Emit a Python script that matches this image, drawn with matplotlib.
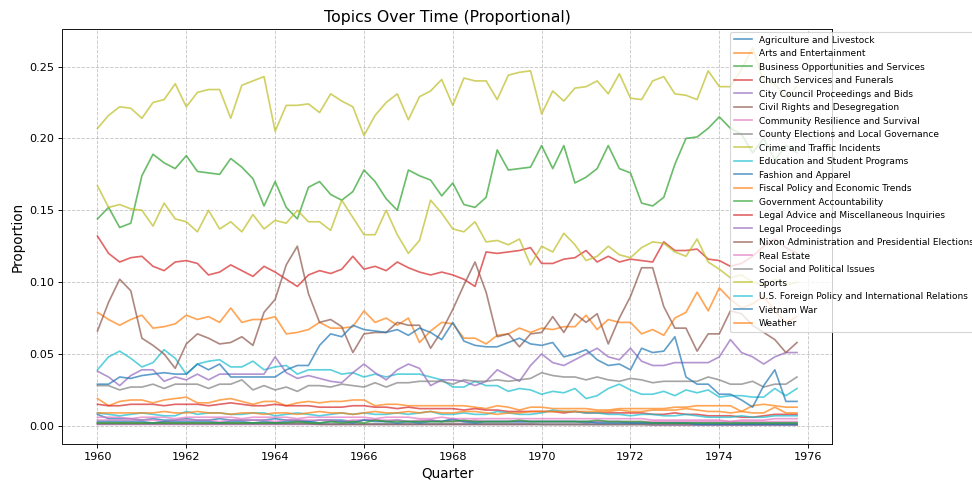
import numpy as np
import pandas as pd
import matplotlib
matplotlib.use("Agg")
import matplotlib.pyplot as plt

quarters = pd.period_range("1960Q1", "1975Q4", freq="Q")
x = np.array([q.year + (q.quarter - 1) / 4 for q in quarters])

topics = [
    "Agriculture and Livestock", "Arts and Entertainment", "Business Opportunities and Services",
    "Church Services and Funerals", "City Council Proceedings and Bids", "Civil Rights and Desegregation",
    "Community Resilience and Survival", "County Elections and Local Governance", "Crime and Traffic Incidents",
    "Education and Student Programs", "Fashion and Apparel", "Fiscal Policy and Economic Trends",
    "Government Accountability", "Legal Advice and Miscellaneous Inquiries", "Legal Proceedings",
    "Nixon Administration and Presidential Elections", "Real Estate", "Social and Political Issues",
    "Sports", "U.S. Foreign Policy and International Relations", "Vietnam War", "Weather",
]

agriculture = [0.008, 0.005, 0.005, 0.005, 0.004, 0.005, 0.004, 0.004, 0.005, 0.004,
               0.004, 0.005, 0.004, 0.004, 0.004, 0.004, 0.005, 0.004, 0.004, 0.003,
               0.004, 0.004, 0.004, 0.003, 0.004, 0.004, 0.003, 0.004, 0.003, 0.003,
               0.004, 0.003, 0.004, 0.003, 0.003, 0.003, 0.003, 0.003, 0.003, 0.003,
               0.003, 0.003, 0.003, 0.003, 0.002, 0.003, 0.003, 0.003, 0.002, 0.002,
               0.002, 0.002, 0.002, 0.002, 0.002, 0.002, 0.002, 0.002, 0.002, 0.002,
               0.002, 0.002, 0.002, 0.002]
arts = [0.079, 0.074, 0.070, 0.074, 0.077, 0.068, 0.069, 0.071, 0.077, 0.074,
        0.076, 0.072, 0.082, 0.072, 0.074, 0.074, 0.076, 0.064, 0.065, 0.067,
        0.072, 0.068, 0.068, 0.069, 0.080, 0.072, 0.075, 0.070, 0.075, 0.058,
        0.066, 0.072, 0.071, 0.061, 0.061, 0.057, 0.063, 0.064, 0.068, 0.065,
        0.068, 0.067, 0.069, 0.069, 0.077, 0.067, 0.074, 0.072, 0.072, 0.064,
        0.067, 0.063, 0.075, 0.079, 0.093, 0.080, 0.096, 0.088, 0.082, 0.085,
        0.090, 0.080, 0.072, 0.076]
business = [0.144, 0.152, 0.138, 0.141, 0.174, 0.189, 0.183, 0.179, 0.188, 0.177,
            0.176, 0.175, 0.186, 0.180, 0.172, 0.153, 0.170, 0.152, 0.144, 0.166,
            0.170, 0.161, 0.157, 0.163, 0.178, 0.170, 0.158, 0.150, 0.178, 0.174,
            0.171, 0.160, 0.169, 0.154, 0.152, 0.159, 0.192, 0.178, 0.179, 0.180,
            0.195, 0.179, 0.195, 0.169, 0.173, 0.179, 0.195, 0.179, 0.176, 0.155,
            0.153, 0.159, 0.182, 0.200, 0.201, 0.207, 0.215, 0.207, 0.203, 0.190,
            0.200, 0.185, 0.195, 0.190]
church = [0.132, 0.120, 0.114, 0.117, 0.118, 0.111, 0.108, 0.114, 0.115, 0.113,
          0.105, 0.107, 0.112, 0.108, 0.104, 0.111, 0.107, 0.102, 0.097, 0.105,
          0.108, 0.106, 0.109, 0.118, 0.109, 0.111, 0.108, 0.114, 0.110, 0.107,
          0.105, 0.107, 0.105, 0.102, 0.097, 0.121, 0.120, 0.121, 0.122, 0.124,
          0.113, 0.113, 0.116, 0.117, 0.122, 0.114, 0.118, 0.114, 0.116, 0.115,
          0.114, 0.128, 0.122, 0.122, 0.123, 0.116, 0.115, 0.111, 0.113, 0.118,
          0.125, 0.130, 0.124, 0.120]
city_council = [0.001, 0.001, 0.001, 0.001, 0.001, 0.001, 0.001, 0.001, 0.001, 0.001,
                0.001, 0.001, 0.001, 0.001, 0.001, 0.001, 0.001, 0.001, 0.001, 0.001,
                0.001, 0.001, 0.001, 0.001, 0.001, 0.001, 0.001, 0.001, 0.001, 0.001,
                0.001, 0.001, 0.001, 0.001, 0.001, 0.001, 0.001, 0.001, 0.001, 0.001,
                0.001, 0.001, 0.001, 0.001, 0.001, 0.001, 0.001, 0.001, 0.001, 0.001,
                0.0005, 0.0005, 0.0005, 0.0005, 0.0005, 0.0005, 0.0005, 0.0005, 0.0005, 0.0005,
                0.0005, 0.0005, 0.0005, 0.0005]
civil_rights = [0.0015, 0.0015, 0.0015, 0.0015, 0.0015, 0.0015, 0.0015, 0.0015, 0.0015, 0.0015,
                0.0015, 0.0015, 0.0015, 0.0015, 0.0015, 0.0015, 0.0015, 0.0015, 0.0015, 0.0015,
                0.001, 0.001, 0.001, 0.001, 0.001, 0.001, 0.001, 0.001, 0.001, 0.001,
                0.001, 0.001, 0.001, 0.001, 0.001, 0.001, 0.001, 0.001, 0.001, 0.001,
                0.001, 0.001, 0.001, 0.001, 0.001, 0.001, 0.001, 0.001, 0.001, 0.001,
                0.001, 0.001, 0.001, 0.001, 0.001, 0.001, 0.001, 0.001, 0.001, 0.001,
                0.001, 0.001, 0.001, 0.001]
community = [0.004, 0.004, 0.004, 0.004, 0.004, 0.004, 0.003, 0.004, 0.004, 0.004,
             0.004, 0.003, 0.004, 0.004, 0.004, 0.004, 0.003, 0.004, 0.004, 0.004,
             0.004, 0.004, 0.003, 0.004, 0.004, 0.004, 0.004, 0.004, 0.003, 0.004,
             0.004, 0.003, 0.003, 0.003, 0.004, 0.003, 0.003, 0.003, 0.003, 0.003,
             0.003, 0.003, 0.003, 0.003, 0.003, 0.003, 0.003, 0.003, 0.003, 0.003,
             0.003, 0.003, 0.003, 0.003, 0.003, 0.003, 0.003, 0.003, 0.003, 0.003,
             0.003, 0.003, 0.003, 0.003]
county = [0.002, 0.002, 0.002, 0.002, 0.002, 0.002, 0.002, 0.002, 0.002, 0.002,
          0.002, 0.002, 0.002, 0.002, 0.002, 0.002, 0.002, 0.002, 0.002, 0.002,
          0.0015, 0.0015, 0.0015, 0.0015, 0.0015, 0.0015, 0.0015, 0.0015, 0.0015, 0.0015,
          0.0015, 0.0015, 0.0015, 0.0015, 0.0015, 0.0015, 0.0015, 0.0015, 0.0015, 0.0015,
          0.001, 0.001, 0.001, 0.001, 0.001, 0.001, 0.001, 0.001, 0.001, 0.001,
          0.001, 0.001, 0.001, 0.001, 0.001, 0.001, 0.001, 0.001, 0.001, 0.001,
          0.001, 0.001, 0.001, 0.001]
crime = [0.167, 0.152, 0.154, 0.151, 0.150, 0.139, 0.155, 0.144, 0.142, 0.135,
         0.150, 0.137, 0.142, 0.135, 0.147, 0.137, 0.143, 0.141, 0.150, 0.142,
         0.142, 0.136, 0.157, 0.145, 0.133, 0.133, 0.150, 0.133, 0.120, 0.129,
         0.157, 0.148, 0.137, 0.135, 0.142, 0.128, 0.129, 0.126, 0.130, 0.112,
         0.125, 0.121, 0.134, 0.126, 0.115, 0.118, 0.125, 0.119, 0.117, 0.124,
         0.128, 0.127, 0.121, 0.118, 0.130, 0.114, 0.109, 0.103, 0.105, 0.100,
         0.098, 0.102, 0.098, 0.100]
education = [0.039, 0.048, 0.052, 0.047, 0.041, 0.044, 0.053, 0.047, 0.036, 0.043,
             0.045, 0.046, 0.041, 0.041, 0.045, 0.039, 0.041, 0.042, 0.036, 0.039,
             0.039, 0.039, 0.036, 0.037, 0.034, 0.036, 0.034, 0.036, 0.036, 0.036,
             0.034, 0.032, 0.027, 0.027, 0.031, 0.028, 0.028, 0.024, 0.026, 0.025,
             0.022, 0.024, 0.023, 0.026, 0.019, 0.021, 0.026, 0.029, 0.025, 0.022,
             0.022, 0.024, 0.021, 0.025, 0.023, 0.025, 0.020, 0.021, 0.021, 0.020,
             0.020, 0.026, 0.021, 0.026]
fashion = [0.003, 0.003, 0.003, 0.003, 0.003, 0.002, 0.003, 0.003, 0.003, 0.003,
           0.003, 0.002, 0.003, 0.003, 0.002, 0.003, 0.002, 0.003, 0.003, 0.003,
           0.002, 0.003, 0.003, 0.002, 0.004, 0.003, 0.003, 0.002, 0.003, 0.002,
           0.003, 0.003, 0.005, 0.003, 0.002, 0.003, 0.003, 0.003, 0.003, 0.003,
           0.003, 0.003, 0.003, 0.003, 0.003, 0.002, 0.002, 0.002, 0.002, 0.002,
           0.002, 0.002, 0.002, 0.002, 0.001, 0.001, 0.001, 0.001, 0.001, 0.001,
           0.001, 0.001, 0.001, 0.001]
fiscal = [0.019, 0.014, 0.017, 0.018, 0.018, 0.016, 0.018, 0.019, 0.020, 0.016,
          0.016, 0.018, 0.019, 0.017, 0.015, 0.017, 0.017, 0.014, 0.016, 0.017,
          0.016, 0.017, 0.017, 0.018, 0.018, 0.014, 0.015, 0.015, 0.014, 0.014,
          0.014, 0.014, 0.014, 0.014, 0.013, 0.012, 0.014, 0.013, 0.011, 0.013,
          0.013, 0.012, 0.012, 0.012, 0.012, 0.011, 0.011, 0.012, 0.012, 0.012,
          0.012, 0.012, 0.013, 0.013, 0.014, 0.014, 0.014, 0.014, 0.010, 0.014,
          0.015, 0.014, 0.013, 0.013]
gov_account = [0.002, 0.002, 0.002, 0.002, 0.002, 0.002, 0.002, 0.002, 0.002, 0.002,
               0.002, 0.002, 0.002, 0.002, 0.002, 0.002, 0.002, 0.002, 0.003, 0.002,
               0.002, 0.003, 0.002, 0.003, 0.002, 0.004, 0.003, 0.003, 0.003, 0.003,
               0.003, 0.003, 0.003, 0.004, 0.003, 0.003, 0.003, 0.003, 0.004, 0.003,
               0.003, 0.003, 0.003, 0.003, 0.003, 0.004, 0.003, 0.003, 0.003, 0.003,
               0.002, 0.002, 0.002, 0.002, 0.002, 0.002, 0.002, 0.002, 0.002, 0.002,
               0.002, 0.002, 0.002, 0.002]
legal_advice = [0.015, 0.014, 0.014, 0.015, 0.015, 0.015, 0.014, 0.015, 0.015, 0.015,
                0.014, 0.015, 0.016, 0.015, 0.014, 0.014, 0.015, 0.014, 0.014, 0.014,
                0.013, 0.013, 0.013, 0.014, 0.014, 0.013, 0.013, 0.012, 0.013, 0.012,
                0.012, 0.012, 0.012, 0.011, 0.012, 0.011, 0.011, 0.010, 0.010, 0.010,
                0.010, 0.010, 0.009, 0.010, 0.009, 0.009, 0.009, 0.009, 0.009, 0.009,
                0.008, 0.008, 0.009, 0.008, 0.008, 0.007, 0.007, 0.007, 0.006, 0.006,
                0.007, 0.008, 0.008, 0.008]
legal_proc = [0.038, 0.034, 0.028, 0.035, 0.039, 0.039, 0.031, 0.034, 0.032, 0.036,
              0.032, 0.036, 0.036, 0.036, 0.036, 0.036, 0.048, 0.037, 0.033, 0.035,
              0.033, 0.031, 0.030, 0.037, 0.043, 0.037, 0.032, 0.039, 0.043, 0.040,
              0.028, 0.032, 0.032, 0.031, 0.028, 0.031, 0.039, 0.035, 0.031, 0.042,
              0.050, 0.044, 0.042, 0.046, 0.050, 0.054, 0.048, 0.046, 0.054, 0.045,
              0.042, 0.042, 0.044, 0.044, 0.044, 0.044, 0.048, 0.060, 0.051, 0.048,
              0.043, 0.048, 0.051, 0.051]
nixon = [0.066, 0.086, 0.102, 0.094, 0.061, 0.056, 0.050, 0.040, 0.057, 0.064,
         0.061, 0.057, 0.058, 0.062, 0.056, 0.079, 0.088, 0.112, 0.125, 0.092,
         0.072, 0.074, 0.069, 0.051, 0.064, 0.065, 0.065, 0.072, 0.070, 0.070,
         0.054, 0.066, 0.081, 0.098, 0.114, 0.093, 0.062, 0.064, 0.055, 0.064,
         0.065, 0.076, 0.065, 0.078, 0.072, 0.078, 0.057, 0.075, 0.090, 0.110,
         0.110, 0.083, 0.068, 0.068, 0.052, 0.064, 0.064, 0.080, 0.078, 0.070,
         0.065, 0.060, 0.051, 0.058]
real_estate = [0.006, 0.006, 0.006, 0.005, 0.006, 0.006, 0.006, 0.005, 0.006, 0.006,
               0.006, 0.006, 0.006, 0.005, 0.006, 0.006, 0.006, 0.006, 0.005, 0.006,
               0.006, 0.006, 0.006, 0.006, 0.006, 0.005, 0.006, 0.006, 0.006, 0.005,
               0.005, 0.006, 0.005, 0.005, 0.005, 0.005, 0.005, 0.005, 0.005, 0.005,
               0.005, 0.005, 0.005, 0.005, 0.005, 0.005, 0.005, 0.005, 0.005, 0.005,
               0.004, 0.004, 0.004, 0.004, 0.004, 0.004, 0.004, 0.003, 0.004, 0.004,
               0.004, 0.005, 0.005, 0.005]
social = [0.028, 0.028, 0.025, 0.027, 0.027, 0.029, 0.026, 0.029, 0.029, 0.029,
          0.026, 0.029, 0.029, 0.032, 0.025, 0.028, 0.025, 0.027, 0.024, 0.028,
          0.028, 0.027, 0.029, 0.028, 0.027, 0.030, 0.027, 0.030, 0.030, 0.031,
          0.031, 0.031, 0.029, 0.032, 0.031, 0.031, 0.032, 0.031, 0.032, 0.033,
          0.037, 0.035, 0.034, 0.034, 0.032, 0.034, 0.032, 0.031, 0.033, 0.032,
          0.030, 0.031, 0.031, 0.031, 0.031, 0.034, 0.032, 0.029, 0.029, 0.031,
          0.027, 0.029, 0.029, 0.034]
sports = [0.207, 0.216, 0.222, 0.221, 0.214, 0.225, 0.227, 0.238, 0.222, 0.232,
          0.234, 0.234, 0.214, 0.237, 0.240, 0.243, 0.205, 0.223, 0.223, 0.224,
          0.218, 0.231, 0.226, 0.222, 0.202, 0.216, 0.225, 0.231, 0.213, 0.229,
          0.233, 0.241, 0.223, 0.242, 0.240, 0.240, 0.227, 0.244, 0.246, 0.247,
          0.217, 0.233, 0.226, 0.235, 0.236, 0.240, 0.231, 0.245, 0.228, 0.227,
          0.240, 0.243, 0.231, 0.230, 0.227, 0.247, 0.236, 0.236, 0.248, 0.263,
          0.240, 0.238, 0.228, 0.236]
foreign = [0.009, 0.008, 0.007, 0.008, 0.009, 0.008, 0.007, 0.007, 0.010, 0.008,
           0.009, 0.009, 0.008, 0.008, 0.009, 0.009, 0.007, 0.008, 0.009, 0.008,
           0.007, 0.008, 0.009, 0.008, 0.009, 0.008, 0.008, 0.009, 0.008, 0.009,
           0.010, 0.008, 0.008, 0.009, 0.008, 0.008, 0.010, 0.009, 0.008, 0.008,
           0.009, 0.011, 0.010, 0.010, 0.009, 0.009, 0.008, 0.008, 0.007, 0.008,
           0.008, 0.007, 0.007, 0.008, 0.007, 0.006, 0.006, 0.006, 0.007, 0.006,
           0.006, 0.007, 0.007, 0.007]
vietnam = [0.029, 0.029, 0.034, 0.033, 0.035, 0.036, 0.037, 0.036, 0.036, 0.043,
           0.039, 0.043, 0.034, 0.034, 0.034, 0.034, 0.034, 0.039, 0.042, 0.042,
           0.056, 0.064, 0.062, 0.070, 0.067, 0.066, 0.065, 0.067, 0.063, 0.068,
           0.065, 0.060, 0.072, 0.059, 0.056, 0.055, 0.055, 0.058, 0.061, 0.057,
           0.056, 0.058, 0.048, 0.050, 0.053, 0.046, 0.042, 0.043, 0.039, 0.054,
           0.051, 0.052, 0.062, 0.034, 0.029, 0.029, 0.022, 0.022, 0.018, 0.013,
           0.028, 0.039, 0.017, 0.017]
weather = [0.009, 0.009, 0.009, 0.009, 0.009, 0.009, 0.010, 0.009, 0.009, 0.010,
           0.009, 0.009, 0.008, 0.009, 0.009, 0.008, 0.009, 0.009, 0.008, 0.009,
           0.010, 0.009, 0.009, 0.008, 0.009, 0.010, 0.009, 0.009, 0.010, 0.009,
           0.010, 0.009, 0.009, 0.010, 0.010, 0.009, 0.008, 0.009, 0.009, 0.010,
           0.010, 0.010, 0.010, 0.010, 0.010, 0.010, 0.010, 0.011, 0.010, 0.010,
           0.011, 0.011, 0.011, 0.012, 0.011, 0.010, 0.010, 0.009, 0.010, 0.009,
           0.009, 0.013, 0.009, 0.009]

series = [agriculture, arts, business, church, city_council, civil_rights, community,
          county, crime, education, fashion, fiscal, gov_account, legal_advice, legal_proc,
          nixon, real_estate, social, sports, foreign, vietnam, weather]

W, H, DPI = 973, 483, 81
fig = plt.figure(figsize=(W / DPI, H / DPI), dpi=DPI)
ax = fig.add_axes([62.5 / W, 1 - 444 / H, (832 - 62.5) / W, (444 - 29) / H])

colors = plt.rcParams['axes.prop_cycle'].by_key()['color']
for i, (name, vals) in enumerate(zip(topics, series)):
    ax.plot(x, vals, label=name, color=colors[i % 10], alpha=0.7, linewidth=1.5)

ax.set_title("Topics Over Time (Proportional)", fontsize=14)
ax.set_xlabel("Quarter", fontsize=12)
ax.set_ylabel("Proportion", fontsize=12)
ax.grid(True, linestyle='--', alpha=0.7)
ax.set_xticks([1960, 1962, 1964, 1966, 1968, 1970, 1972, 1974, 1976])

ax.legend(loc='upper left', bbox_to_anchor=(730 / W, 1 - 32 / H),
          bbox_transform=fig.transFigure, borderaxespad=0, fontsize=8)

fig.savefig("out.png", dpi=DPI)
